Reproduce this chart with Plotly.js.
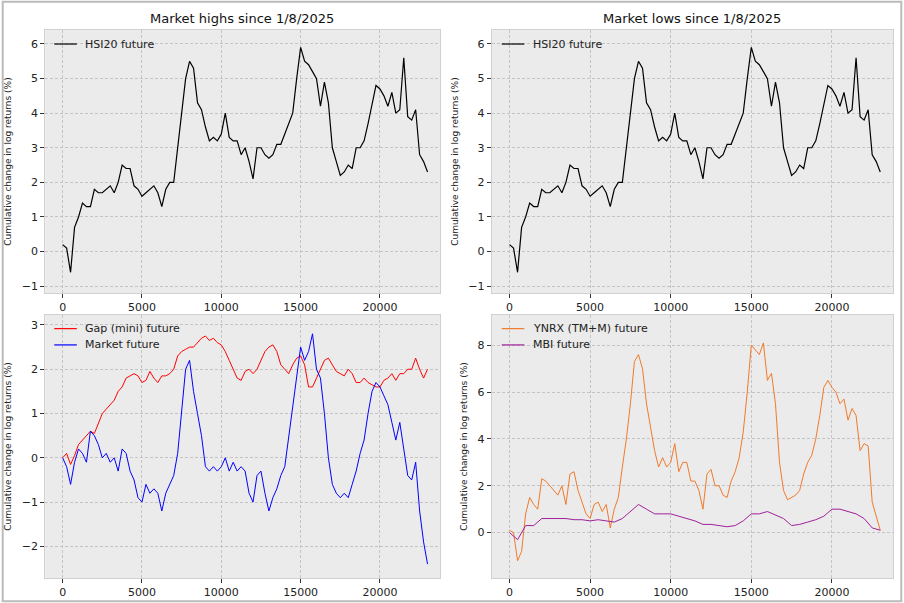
<!DOCTYPE html><html><head><script src="https://cdn.plot.ly/plotly-3.0.1.min.js"></script>
<style>body{margin:0}#c{width:904px;height:603px}</style></head><body><div id="c"></div><script>
const xs=[];for(let i=0;i<=23000;i+=250)xs.push(i);
const xs5=[];for(let i=0;i<=23000;i+=500)xs5.push(i);
const xticks=[0,5000,10000,15000,20000];
const xtickLabels=['0','5000','10000','15000','20000'];
const hsi=[0.2,0.1,-0.6,0.7,1.0,1.4,1.3,1.3,1.8,1.7,1.7,1.8,1.9,1.7,2.0,2.5,2.4,2.4,1.9,1.8,1.6,1.7,1.8,1.9,1.7,1.3,1.8,2.0,2.0,3.0,4.0,5.0,5.5,5.3,4.3,4.1,3.6,3.2,3.3,3.2,3.4,4.0,3.3,3.2,3.2,2.8,3.0,2.6,2.1,3.0,3.0,2.8,2.7,2.8,3.1,3.1,3.4,3.7,4.0,5.0,5.9,5.5,5.4,5.2,5.0,4.2,4.9,4.3,3.0,2.6,2.2,2.3,2.5,2.4,3.0,3.0,3.2,3.7,4.3,4.8,4.7,4.5,4.2,4.6,4.0,4.1,5.6,3.9,3.8,4.1,2.8,2.6,2.3];
const gap=[0.0,0.1,-0.15,0.05,0.3,0.4,0.5,0.6,0.55,0.8,1.0,1.1,1.2,1.3,1.5,1.6,1.8,1.85,1.9,1.85,1.7,1.75,1.95,1.8,1.7,1.85,1.85,1.9,2.0,2.3,2.4,2.45,2.5,2.5,2.6,2.7,2.75,2.65,2.7,2.6,2.55,2.4,2.2,2.0,1.8,1.75,1.95,2.0,1.9,2.0,2.2,2.4,2.5,2.55,2.4,2.1,2.0,1.9,2.1,2.25,2.3,2.1,1.6,1.6,1.8,2.0,2.2,2.25,2.1,1.95,1.9,1.85,2.0,1.9,1.7,1.7,1.8,1.7,1.65,1.6,1.6,1.75,1.8,1.9,1.75,1.9,1.9,2.0,2.0,2.25,2.0,1.8,2.0];
const mkt=[0.0,-0.2,-0.6,-0.1,0.2,0.1,-0.1,0.6,0.5,0.3,0.0,0.1,-0.1,0.0,-0.3,0.2,0.1,-0.3,-0.5,-0.9,-1.0,-0.6,-0.8,-0.7,-0.8,-1.2,-0.8,-0.6,-0.4,0.1,1.0,2.0,2.2,1.5,1.0,0.5,-0.2,-0.3,-0.2,-0.3,-0.2,0.0,-0.3,-0.1,-0.3,-0.2,-0.3,-0.8,-1.0,-0.4,-0.3,-0.8,-1.2,-0.9,-0.7,-0.4,-0.2,0.5,1.2,1.8,2.5,2.2,2.4,2.8,2.0,1.8,1.0,0.0,-0.6,-0.8,-0.9,-0.8,-0.9,-0.6,-0.3,0.1,0.4,1.0,1.5,1.7,1.6,1.4,1.2,0.8,0.4,0.8,0.2,-0.4,-0.5,-0.1,-1.2,-1.9,-2.4];
const ynrx=[0.1,0.0,-1.2,-0.8,0.8,1.5,1.2,1.0,2.3,2.2,2.0,1.8,1.6,2.0,1.2,2.5,2.6,1.8,1.3,0.8,0.6,1.2,1.3,0.9,1.2,0.2,1.0,1.5,2.8,4.0,5.5,7.3,7.6,7.0,5.5,4.5,3.5,2.8,3.2,2.8,3.0,3.8,2.6,3.0,3.0,2.2,2.2,1.8,1.0,2.5,2.7,2.0,2.0,1.6,1.5,2.2,2.6,3.2,4.3,6.0,8.0,7.8,7.6,8.1,6.5,6.8,5.5,3.0,1.8,1.4,1.5,1.6,1.8,2.5,3.0,3.3,4.0,5.0,6.2,6.5,6.2,6.0,5.5,5.7,4.8,5.3,5.0,3.5,3.8,3.7,1.3,0.7,0.1];
const mbi=[0,-0.3,0.3,0.3,0.6,0.6,0.6,0.6,0.55,0.55,0.5,0.55,0.5,0.45,0.6,0.9,1.2,1.0,0.8,0.8,0.8,0.7,0.6,0.5,0.35,0.35,0.3,0.25,0.3,0.5,0.8,0.8,0.9,0.75,0.6,0.3,0.35,0.45,0.55,0.7,1.0,1.0,0.9,0.8,0.6,0.2,0.1];
const L=[0.05,0.487],R=[0.544,0.988],T=[0.514,0.95],B=[0.041,0.478];
const ytitle={text:'Cumulative change in log returns (%)',font:{size:9,color:'#222'},standoff:8};
function ax(dom,anchor,range,extra){return Object.assign({domain:dom,anchor:anchor,range:range,showgrid:true,gridcolor:'#c4c4c4',griddash:'3px,2px',gridwidth:0.8,zeroline:false,showline:true,mirror:true,linecolor:'#d0d0d0',ticks:'outside',ticklen:4,tickcolor:'#333',tickfont:{size:11,color:'#222'}},extra||{});}
const xr=[-1100,23800];
const xt={tickvals:xticks,ticktext:xtickLabels};
const layout={width:904,height:603,margin:{l:0,r:0,t:0,b:0},paper_bgcolor:'white',plot_bgcolor:'#ebebeb',showlegend:false,font:{family:'DejaVu Sans'},
xaxis:ax(L,'y',xr,xt),yaxis:ax(T,'x',[-1.2,6.4],{dtick:1,title:ytitle}),
xaxis2:ax(R,'y2',xr,xt),yaxis2:ax(T,'x2',[-1.2,6.4],{dtick:1,title:ytitle}),
xaxis3:ax(L,'y3',xr,xt),yaxis3:ax(B,'x3',[-2.72,3.23],{dtick:1,title:ytitle}),
xaxis4:ax(R,'y4',xr,xt),yaxis4:ax(B,'x4',[-1.95,9.3],{dtick:2,title:ytitle}),
annotations:[{text:'Market highs since 1/8/2025',x:0.268,y:0.97,xref:'paper',yref:'paper',xanchor:'center',yanchor:'middle',showarrow:false,font:{size:13,color:'#111'}},
{text:'Market lows since 1/8/2025',x:0.766,y:0.97,xref:'paper',yref:'paper',xanchor:'center',yanchor:'middle',showarrow:false,font:{size:13,color:'#111'}}],
shapes:[{type:'rect',xref:'paper',yref:'paper',x0:0.003,x1:0.997,y0:0.003,y1:0.997,line:{color:'#bbb',width:2}}]};
function leg(xp,yp,col,txt){layout.shapes.push({type:'line',xref:'paper',yref:'paper',x0:xp,x1:xp+0.025,y0:yp,y1:yp,line:{color:col,width:1.2}});
layout.annotations.push({text:txt,x:xp+0.032,y:yp,xref:'paper',yref:'paper',xanchor:'left',yanchor:'middle',showarrow:false,font:{size:11,color:'#222'}});}
leg(0.06,0.927,'black','HSI20 future');leg(0.555,0.927,'black','HSI20 future');
leg(0.06,0.455,'red','Gap (mini) future');leg(0.06,0.428,'blue','Market future');
leg(0.555,0.455,'#f07a2a','YNRX (TM+M) future');leg(0.555,0.428,'#a0209a','MBI future');
const data=[
{x:xs,y:hsi,xaxis:'x',yaxis:'y',mode:'lines',line:{color:'black',width:1.2}},
{x:xs,y:hsi,xaxis:'x2',yaxis:'y2',mode:'lines',line:{color:'black',width:1.2}},
{x:xs,y:gap,xaxis:'x3',yaxis:'y3',mode:'lines',line:{color:'red',width:1}},
{x:xs,y:mkt,xaxis:'x3',yaxis:'y3',mode:'lines',line:{color:'blue',width:1}},
{x:xs,y:ynrx,xaxis:'x4',yaxis:'y4',mode:'lines',line:{color:'#f07a2a',width:1}},
{x:xs5,y:mbi,xaxis:'x4',yaxis:'y4',mode:'lines',line:{color:'#a0209a',width:1}}];
Plotly.newPlot('c',data,layout,{displayModeBar:false});
</script></body></html>
